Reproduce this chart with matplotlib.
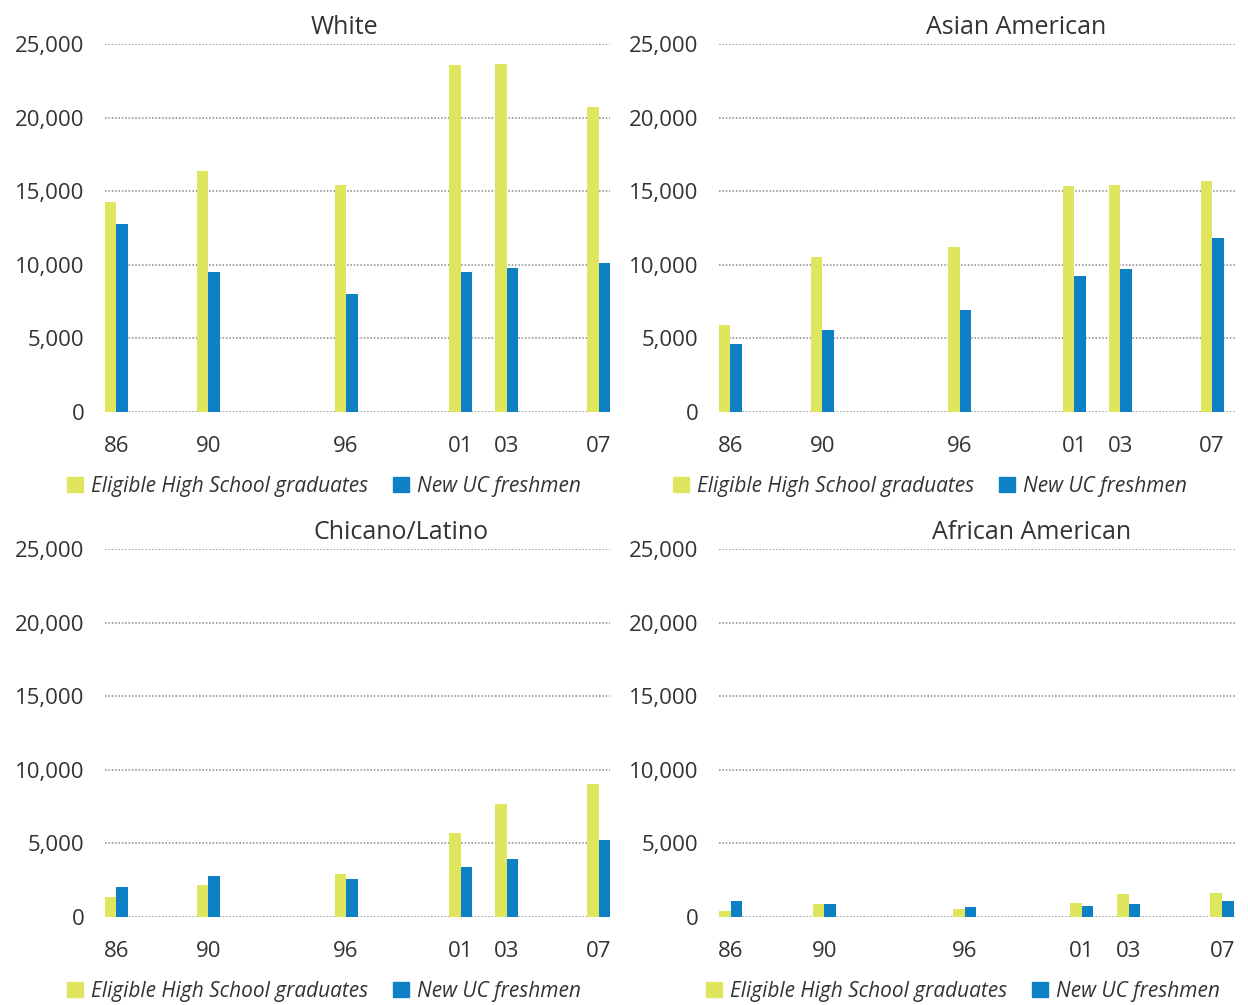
# -*- coding: utf-8 -*-

#---------------------------------------------------------------------
# Libraries
#---------------------------------------------------------------------
import numpy as np
import matplotlib as mpl
import matplotlib.pyplot as plt
from matplotlib.patches import Patch

#---------------------------------------------------------------------
# Data
#---------------------------------------------------------------------
years = [1986, 1990, 1996, 2001, 2003, 2007]
year_labels = ['86', '90', '96', '01', '03', '07']

white_eligible = [14300, 16400, 15400, 23600, 23650, 20700]
white_freshmen = [12800, 9500, 8000, 9500, 9800, 10100]

asian_eligible = [5900, 10550, 11200, 15350, 15400, 15700]
asian_freshmen = [4650, 5600, 6950, 9250, 9700, 11850]

latino_eligible = [1350, 2150, 2950, 5700, 7650, 9050]
latino_freshmen = [2050, 2800, 2550, 3400, 3950, 5250]

african_eligible = [420, 880, 550, 980, 1550, 1660]
african_freshmen = [1080, 890, 690, 720, 850, 1080]

panels = [
	('White', white_eligible, white_freshmen),
	('Asian American', asian_eligible, asian_freshmen),
	('Chicano/Latino', latino_eligible, latino_freshmen),
	('African American', african_eligible, african_freshmen),
]

#---------------------------------------------------------------------
# Style
#---------------------------------------------------------------------
mpl.rc('font', family=['Open Sans', 'DejaVu Sans'])
c_elig = '#DFE65E'
c_new = '#0E80C6'
txt = '#333333'

fig = plt.figure(figsize=(12.48, 10.05), dpi=100)

# axes positions in pixels: left, top, right, bottom
boxes = [(105, 44, 610, 412), (719, 44, 1235, 412),
	(105, 549, 610, 917), (719, 549, 1235, 917)]
x_right = [2007.5, 2008.0, 2007.5, 2007.55]
title_x = [0.475, 0.576, 0.586, 0.605]
legend_x = [0.434, 0.409, 0.434, 0.473]

W, H = 1248.0, 1005.0
w = 0.5
x = np.array(years)

for i, (name, elig, new) in enumerate(panels):
	l, t, r, b = boxes[i]
	ax = fig.add_axes([l / W, 1 - b / H, (r - l) / W, (b - t) / H])

	ax.bar(x - w / 2, elig, width=w, color=c_elig, zorder=3)
	ax.bar(x + w / 2, new, width=w, color=c_new, zorder=3)

	ax.set_xlim(1985.5, x_right[i])
	ax.set_ylim(0, 25000)
	ax.set_yticks(np.arange(0, 25001, 5000))
	ax.set_yticklabels(['{:,}'.format(v) for v in range(0, 25001, 5000)])
	ax.set_xticks(years)
	ax.set_xticklabels(year_labels)
	ax.tick_params(axis='both', length=0, labelsize=16, colors=txt)
	ax.tick_params(axis='y', pad=15)
	ax.tick_params(axis='x', pad=17)

	for s in ax.spines.values():
		s.set_visible(False)
	ax.yaxis.grid(True, linestyle=(0, (1, 1.2)), color='#888888', linewidth=1.1, zorder=0)
	ax.set_axisbelow(True)

	ax.text(title_x[i], 1.045, name, transform=ax.transAxes, ha='center', va='center',
		fontsize=18, color=txt)

	handles = [Patch(color=c_elig, label='Eligible High School graduates'),
		Patch(color=c_new, label='New UC freshmen')]
	ax.legend(handles=handles, loc='center', bbox_to_anchor=(legend_x[i], -0.202),
		ncol=2, frameon=False, handlelength=0.75, handleheight=0.75,
		handletextpad=0.4, columnspacing=1.2, borderaxespad=0,
		prop={'style': 'italic', 'size': 15}, labelcolor=txt)

fig.savefig('out.png', dpi=100)
